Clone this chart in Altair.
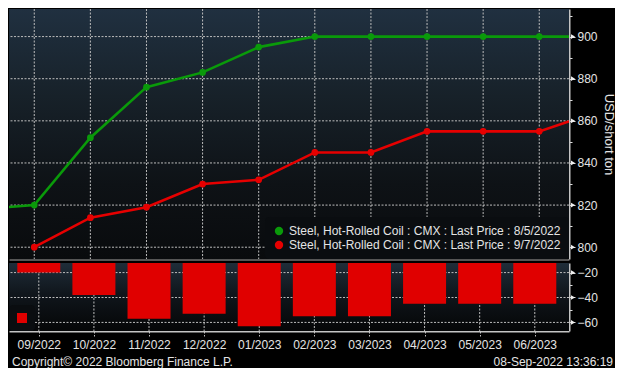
import altair as alt
import pandas as pd

# ---------------- data ----------------
month_idx = [-1, 0, 1, 2, 3, 4, 5, 6, 7, 8, 9, 10]
green_aug05 = [818, 820, 852, 876, 883, 895, 900, 900, 900, 900, 900, 900]
red_sep07 = [None, 800, 814, 819, 830, 832, 845, 845, 855, 855, 855, 864]

tick_labels = ["09/2022", "10/2022", "11/2022", "12/2022", "01/2023",
               "02/2023", "03/2023", "04/2023", "05/2023", "06/2023"]
bar_idx = list(range(10))
spread = [-20, -38, -57, -53, -63, -55, -55, -45, -45, -45]

top_grid_vals = [800, 820, 840, 860, 880, 900]
bot_grid_vals = [-20, -40, -60]

s_green = "Steel, Hot-Rolled Coil : CMX : Last Price : 8/5/2022"
s_red = "Steel, Hot-Rolled Coil : CMX : Last Price : 9/7/2022"

rows = []
for m, g, r in zip(month_idx, green_aug05, red_sep07):
    if g is not None:
        rows.append({"m": m, "v": g, "s": s_green})
    if r is not None:
        rows.append({"m": m, "v": r, "s": s_red})
lines_df = pd.DataFrame(rows)
pts_df = lines_df[(lines_df.m >= 0) & (lines_df.m <= 9)]
bars_df = pd.DataFrame({"m": bar_idx, "d": spread, "k": ["spread"] * len(bar_idx)})
vgrid_df = pd.DataFrame({"m": list(range(10))})
hgrid_top_df = pd.DataFrame({"v": top_grid_vals})
hgrid_bot_df = pd.DataFrame({"d": bot_grid_vals})
one = pd.DataFrame({"t": [0]})

# ---------------- styling ----------------
FONT = "Liberation Sans"
TXT = "#e4e4e4"
GRID = "#bdbdbd"
DASH = [2, 1.5]
W, H1, H2 = 560, 250, 68
XDOM = [-0.45, 9.53]
label_expr = "[" + ",".join(f"'{t}'" for t in tick_labels) + "][datum.value]"
GREEN, RED = "#0a9a0a", "#e60000"


def bg(h, stops):
    return alt.Chart(one).mark_rect(
        color=alt.LinearGradient(
            gradient="linear",
            stops=[alt.GradientStop(color=c, offset=o) for o, c in stops],
            x1=0, x2=0, y1=0, y2=1,
        )
    ).encode(x=alt.value(0), x2=alt.value(W), y=alt.value(0), y2=alt.value(h))


x_top = alt.X("m:Q", scale=alt.Scale(domain=XDOM, nice=False, zero=False),
              axis=alt.Axis(values=list(range(10)), labels=False, ticks=False,
                            title=None, domain=True, domainColor="#555555",
                            domainWidth=3, grid=False))

y_top_axis = alt.Axis(
    orient="right", values=list(range(800, 911, 10)),
    labelExpr="datum.value % 20 === 0 ? datum.label : ''",
    title="USD/short ton", titleColor=TXT, titleFont=FONT, titleFontSize=13,
    titleFontWeight="normal", titlePadding=4,
    labelColor=TXT, labelFont=FONT, labelFontSize=12, labelPadding=2,
    domainColor="#c4c4c4", domainWidth=2,
    tickColor="#e0e0e0",
    tickSize={"condition": {"test": "datum.value % 20 === 0", "value": 6}, "value": 3},
    grid=False,
)
y_top = alt.Y("v:Q", scale=alt.Scale(domain=[794.4, 913.1], nice=False, zero=False),
              axis=y_top_axis)

color_top = alt.Color(
    "s:N",
    scale=alt.Scale(domain=[s_green, s_red], range=[GREEN, RED]),
    legend=alt.Legend(orient="bottom-right", offset=0, title=None,
                      fillColor="#0a0d10", cornerRadius=4, padding=8,
                      labelColor=TXT, labelFont=FONT, labelFontSize=12,
                      labelOffset=4, labelLimit=400, rowPadding=2,
                      symbolType="circle", symbolSize=70, symbolStrokeWidth=0),
)

vgrid_top = alt.Chart(vgrid_df).mark_rule(color=GRID, strokeDash=DASH, strokeWidth=1).encode(x=x_top)
hgrid_top = alt.Chart(hgrid_top_df).mark_rule(color=GRID, strokeDash=DASH, strokeWidth=1).encode(y=y_top)
arrows_top = alt.Chart(hgrid_top_df).mark_point(
    shape="triangle-right", filled=True, size=22, color="#f0f0f0", opacity=1).encode(
    x=alt.value(W + 4), y=y_top)

line_g = alt.Chart(lines_df).transform_filter(alt.datum.s == s_green).mark_line(
    strokeWidth=2.6, clip=True, color=GREEN).encode(x=x_top, y=y_top)
line_r = alt.Chart(lines_df).transform_filter(alt.datum.s == s_red).mark_line(
    strokeWidth=2.6, clip=True, color=RED).encode(x=x_top, y=y_top)
points = alt.Chart(pts_df).mark_point(filled=True, size=45, opacity=1, clip=True).encode(
    x=x_top, y=y_top, color=color_top,
)

top = alt.layer(
    bg(H1, [(0, "#203040"), (0.35, "#172129"), (0.7, "#0e1216"), (1, "#090b0d")]),
    vgrid_top, hgrid_top, line_g, line_r, points, arrows_top,
).properties(width=W, height=H1)

# ---------------- bottom panel ----------------
x_bot = alt.X("m:Q", scale=alt.Scale(domain=XDOM, nice=False, zero=False),
              axis=alt.Axis(values=list(range(10)), labelExpr=label_expr, title=None,
                            labelColor=TXT, labelFont=FONT, labelFontSize=12,
                            labelPadding=3, tickSize=5, tickColor=GRID,
                            tickDash=DASH, domainColor="#c4c4c4", domainWidth=2,
                            grid=False))
y_bot = alt.Y("d:Q", scale=alt.Scale(domain=[-66.9, -12.3], nice=False, zero=False),
              axis=alt.Axis(
                  orient="right", values=[-60, -50, -40, -30, -20],
                  labelExpr="datum.value % 20 === 0 ? datum.label : ''",
                  title=None, labelColor=TXT, labelFont=FONT, labelFontSize=12,
                  labelPadding=2, domainColor="#c4c4c4", domainWidth=2,
                  tickColor="#e0e0e0",
                  tickSize={"condition": {"test": "datum.value % 20 === 0", "value": 6}, "value": 3},
                  grid=False,
              ))

vgrid_bot = alt.Chart(vgrid_df).mark_rule(color=GRID, strokeDash=DASH, strokeWidth=1).encode(x=x_bot)
hgrid_bot = alt.Chart(hgrid_bot_df).mark_rule(color=GRID, strokeDash=DASH, strokeWidth=1).encode(y=y_bot)
arrows_bot = alt.Chart(hgrid_bot_df).mark_point(
    shape="triangle-right", filled=True, size=22, color="#f0f0f0", opacity=1).encode(
    x=alt.value(W + 4), y=y_bot)

bars = alt.Chart(bars_df).mark_bar(size=43, clip=True).encode(
    x=x_bot, y=y_bot, y2=alt.datum(0),
    color=alt.Color("k:N", scale=alt.Scale(range=["#e00000"]),
                    legend=alt.Legend(orient="bottom-left", offset=0, title=None,
                                      labelExpr="''", labelOffset=0,
                                      symbolType="square", symbolSize=100,
                                      symbolStrokeWidth=0, padding=8,
                                      fillColor="#0a0d10", cornerRadius=4)),
)

copy_txt = alt.Chart(one).mark_text(align="left", baseline="middle", font=FONT,
                                    fontSize=12, color=TXT).encode(
    x=alt.value(3), y=alt.value(H2 + 31), text=alt.value("Copyright© 2022 Bloomberg Finance L.P."))
stamp_txt = alt.Chart(one).mark_text(align="right", baseline="middle", font=FONT,
                                     fontSize=12, color=TXT).encode(
    x=alt.value(604), y=alt.value(H2 + 31), text=alt.value("08-Sep-2022 13:36:19"))

bottom = alt.layer(
    bg(H2, [(0, "#1f2d39"), (0.45, "#10161c"), (1, "#050607")]),
    vgrid_bot, hgrid_bot, bars, arrows_bot, copy_txt, stamp_txt,
).properties(width=W, height=H2)

chart = alt.vconcat(top, bottom, spacing=2).resolve_scale(
    color="independent").resolve_legend(color="independent").properties(
    background="#000000", padding=0,
).configure_view(stroke=None)

chart.save("out.html", embed_options={"renderer": "svg", "actions": False})
